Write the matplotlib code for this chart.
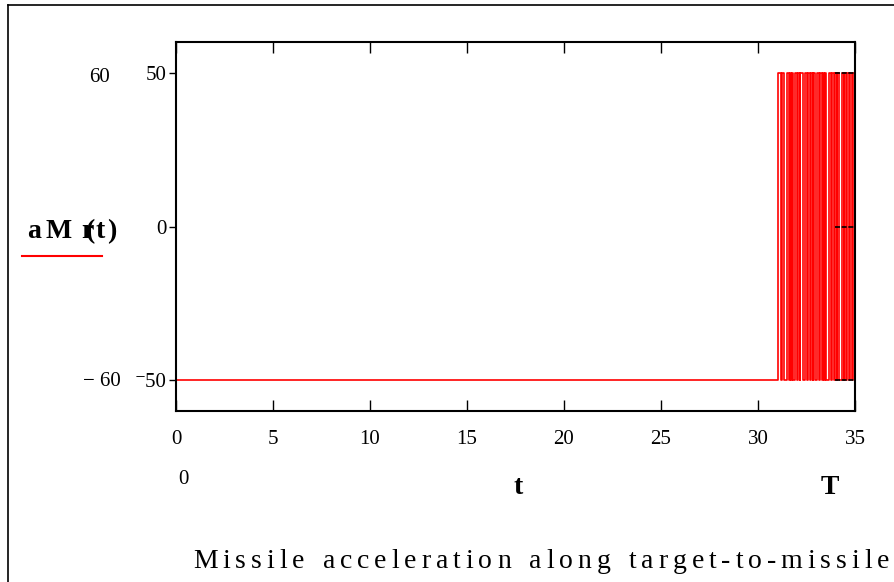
import matplotlib
matplotlib.use("Agg")
import matplotlib.pyplot as plt
from matplotlib.lines import Line2D
import numpy as np

plt.rcParams["font.family"] = ["Liberation Serif", "DejaVu Serif"]

# switching intervals where aMr = +50 (otherwise -50)
hi_starts = [31.02, 31.24, 31.51, 31.63, 31.75, 31.93, 32.05, 32.18,
             32.43, 32.58, 32.73, 32.85, 33.04, 33.18, 33.33, 33.45,
             33.67, 33.81, 33.95, 34.09, 34.31, 34.45, 34.59, 34.73, 34.90]
hi_ends = [31.20, 31.34, 31.60, 31.72, 31.82, 32.02, 32.14, 32.30,
           32.55, 32.70, 32.82, 32.94, 33.15, 33.30, 33.42, 33.52,
           33.78, 33.92, 34.06, 34.19, 34.42, 34.56, 34.70, 34.82, 35.0]
a_hi = 50
a_lo = -50
t_end = 35.0

x_ticks = [0, 5, 10, 15, 20, 25, 30, 35]
y_ticks = [50, 0, -50]
y_ticklabels = ["50", "0", "\u207b50"]

caption = "Missile acceleration along target-to-missile"

# build the step signal
t = [0.0]
a = [a_lo]
for s, e in zip(hi_starts, hi_ends):
    t += [s, s, e, e]
    a += [a_lo, a_hi, a_hi, a_lo if e < t_end else a_hi]
if t[-1] < t_end:
    t.append(t_end)
    a.append(a[-1])

W, H = 894, 582
fig = plt.figure(figsize=(W / 100, H / 100), dpi=100)
ax = fig.add_axes([176 / W, 1 - 411 / H, (855 - 176) / W, (411 - 42) / H])

ax.plot(t, a, color="red", lw=1.2)
ax.set_xlim(0, 35)
ax.set_ylim(-60, 60)

ax.set_xticks(x_ticks)
ax.set_xticklabels([str(v) for v in x_ticks], fontsize=15)
ax.tick_params(axis="x", direction="in", length=8, width=1, top=True, pad=14)
ax.set_yticks(y_ticks)
ax.set_yticklabels(y_ticklabels, fontsize=15)
ax.tick_params(axis="y", direction="out", length=5, width=1, pad=2)
# right-side inner ticks
for yv in y_ticks:
    ax.plot([33.95, 35], [yv, yv], color="black", lw=1.2, ls=(0, (3, 1)))
for sp in ax.spines.values():
    sp.set_linewidth(1.5)

# Mathcad-style limit labels and axis labels
fig.text(100 / W, 1 - 77 / H, "60", fontsize=15, ha="center", va="center")
fig.text(102 / W, 1 - 381 / H, "\u2212 60", fontsize=15, ha="center", va="center")
fig.text(183 / W, 1 - 480 / H, "0", fontsize=15, ha="center", va="center")
fig.text(518 / W, 1 - 487 / H, "t", fontsize=20, fontweight="bold",
         ha="center", va="center")
fig.text(830 / W, 1 - 487 / H, "T", fontsize=20, fontweight="bold",
         ha="center", va="center")

# y label drawn piece by piece (Mathcad spacing, r overlaps the bracket)
for ch, px in [("a", 27), ("M", 46), ("r", 81), ("(", 86), ("t", 96), (")", 107)]:
    fig.text(px / W, 1 - 238 / H, ch, fontsize=20, fontweight="bold",
             ha="left", va="baseline")
fig.add_artist(Line2D([22 / W, 102 / W], [1 - 256 / H, 1 - 256 / H],
                      color="red", lw=1.5))

# outer region frame
fig.add_artist(Line2D([8 / W, 8 / W], [0, 1 - 5 / H], color="black", lw=1.2))
fig.add_artist(Line2D([8 / W, 1], [1 - 5 / H, 1 - 5 / H], color="black", lw=1.2))

# caption with wide letter spacing
renderer = fig.canvas.get_renderer()
x = 193.0
for ch in caption:
    if ch == " ":
        x += 13.5
        continue
    txt = fig.text(x / W, 1 - 568 / H, ch, fontsize=20, ha="left", va="baseline")
    w = txt.get_window_extent(renderer).width
    x += w + 4.9

fig.savefig("out.png", dpi=100)
